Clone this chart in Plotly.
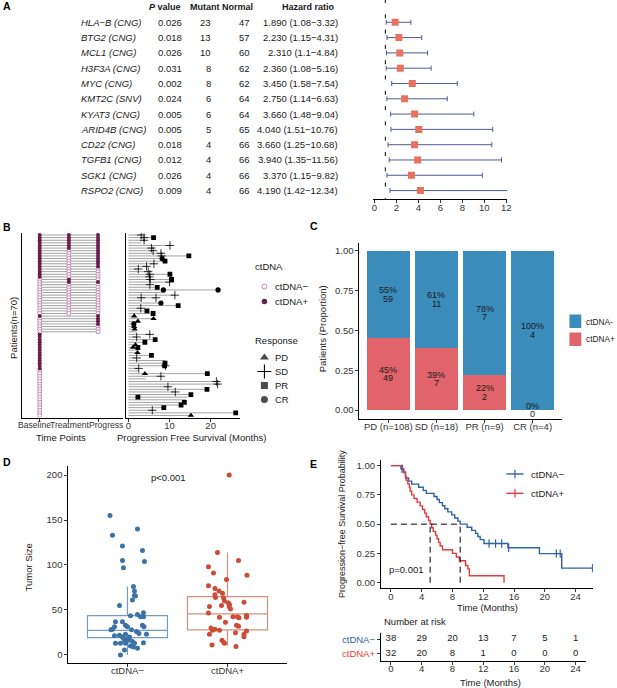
import plotly.graph_objects as go

W, H = 617, 688
def X(px): return px / W
def Y(py): return 1 - py / H

FONT = "Liberation Sans, Arial, Helvetica, sans-serif"
TXT = "#1a1a1a"
TICK = "#333333"

# ---------------- Panel A data ----------------
genes = ["HLA−B (CNG)", "BTG2 (CNG)", "MCL1 (CNG)", "H3F3A (CNG)", "MYC (CNG)", "KMT2C (SNV)",
         "KYAT3 (CNG)", "ARID4B (CNG)", "CD22 (CNG)", "TGFB1 (CNG)", "SGK1 (CNG)", "RSPO2 (CNG)"]
pvals = ["0.026", "0.018", "0.026", "0.031", "0.002", "0.024", "0.005", "0.005", "0.018", "0.012", "0.026", "0.009"]
mutant = [23, 13, 10, 8, 8, 6, 6, 5, 4, 4, 4, 4]
normal = [47, 57, 60, 62, 62, 64, 64, 65, 66, 66, 66, 66]
hr = [1.89, 2.23, 2.31, 2.36, 3.45, 2.75, 3.66, 4.04, 3.66, 3.94, 3.37, 4.19]
hr_lo = [1.08, 1.15, 1.1, 1.08, 1.58, 1.14, 1.48, 1.51, 1.25, 1.35, 1.15, 1.42]
hr_hi = [3.32, 4.31, 4.84, 5.16, 7.54, 6.63, 9.04, 10.76, 10.68, 11.56, 9.82, 12.34]
forest_ticks = [0, 2, 4, 6, 8, 10, 12]

# ---------------- Panel B data ----------------
time_points = ["Baseline", "Treatment", "Progress"]
base_status = [1,1,1,1,1,1,1,1,1,1, 1,1,1,1,1,1,1,0,0,0, 0,0,0,0,0,0,0,0,0,0,
               0,1,0,0,0,0,0,0,1,1, 1,1,1,1,1,1,1,1,1,1, 1,1,0,0,0,0,0,0,0,0,
               0,0,0,0,0,0,0,0,0,0]
treat_status = [1,1,1,1,1,1,0,0,0,0, 0,0,0,0,0,0,0,1,1,0, 0,0,0,0,0,0,0,0,0,0, 0]
prog_status = [1,1,1,1,1,1,1,1,1,1, 1,1,1,0,0,0,0,0,1,0, 0,0,0,0,0,0,0,0,0,0, 0,1,1,1,1,0,0,0]
pfs = [3.5, 6.2, 4.0, 3.2, 10.5, 6.0, 6.3, 8.3, 14.8, 8.4,
       9.0, 6.3, 4.8, 2.6, 5.0, 10.3, 5.3, 10.7, 10.2, 5.3,
       7.1, 22.0, 8.8, 11.5, 6.9, 3.2, 8.0, 12.3, 3.3, 4.7,
       6.1, 1.6, 6.3, 2.4, 1.5, 1.6, 1.7, 2.0, 5.4, 2.1,
       6.6, 4.1, 1.8, 2.4, 2.3, 2.3, 5.7, 2.2, 9.0, 9.1,
       9.2, 2.6, 2.6, 19.4, 8.2, 4.2, 21.8, 22.2, 10.0, 19.3,
       11.6, 15.3, 14.4, 14.0, 13.7, 12.9, 8.7, 6.4, 26.2, 15.3]
sd_row = [1, 2, 3, 5, 6, 7, 8, 9, 12, 13, 14, 15, 16, 17, 18, 19, 20, 24, 25, 25, 29, 39, 40, 48, 51, 52, 55, 57, 58, 59, 61, 68]
sd_t = [3.1, 3.8, 3.8, 10.1, 5.6, 6.0, 7.9, 8.1, 6.2, 4.4, 2.4, 4.8, 5.2, 5.1, 5.3, 10.0, 5.2, 11.3, 3.1, 6.7, 3.0, 5.2, 2.0, 2.0, 9.0, 2.5, 7.9, 21.4, 21.7, 9.6, 11.4, 5.8]
pr_row = [2, 9, 11, 16, 18, 21, 28, 30, 31, 41, 42, 44, 47, 50, 51, 54, 60, 62, 63, 65, 66, 67, 69]
pr_t = [6.1, 14.7, 8.9, 10.1, 10.5, 7.0, 12.1, 4.5, 6.0, 6.5, 4.0, 2.3, 5.6, 8.9, 8.8, 19.2, 19.1, 15.2, 2.3, 13.6, 12.8, 8.6, 26.1]
pd_row = [32, 33, 34, 36, 37, 43, 44, 46, 54, 70]
pd_t = [1.4, 6.1, 2.3, 1.4, 1.5, 1.7, 1.1, 2.2, 4.0, 15.2]
cr_row = [10, 22, 22, 27, 35]
cr_t = [8.2, 8.5, 21.8, 7.9, 1.3]

# ---------------- Panel C data ----------------
resp_labels = ["PD (n=108)", "SD (n=18)", "PR (n=9)", "CR (n=4)"]
neg_counts = [59, 11, 7, 4]
pos_counts = [49, 7, 2, 0]
neg_pct = ["55%", "61%", "78%", "100%"]
pos_pct = ["45%", "39%", "22%", "0%"]

# ---------------- Panel D data ----------------
d_neg_off = [-0.175, -0.15, 0.1, -0.05, 0.15, -0.05, 0.17, -0.04, -0.08, 0.06, 0.07, 0.07, 0.05, 0.08,
             0.16, 0.13, 0.16, 0.1, 0.03, -0.05, -0.12, -0.13, -0.15, -0.165, -0.02, 0.0, 0.15, 0.165,
             0.09, 0.115, 0.19, -0.13, -0.08, -0.05, -0.02, 0.02, -0.03, -0.01, 0.01, -0.02, -0.07, 0.05,
             0.07, 0.03, 0.06, 0.1, 0.16, -0.03, -0.07, -0.04, 0.02, -0.12, 0.04]
d_neg_val = [155, 133, 140, 121, 116, 105, 104, 97, 55, 76, 71, 66, 61, 65.5,
             47, 42.6, 42.6, 45, 43.7, 37, 37, 31.5, 28.5, 28, 33, 31.5, 33, 31.5,
             26, 24, 23, 21.5, 22, 20, 23, 20, 16.7, 15, 18.5, 13, 13, 15,
             13, 10, 9, 7.4, 13.7, 5.6, 0, 18.5, 16.7, 13, 28]
d_pos_off = [0.017, -0.1, 0.11, -0.19, -0.14, -0.01, 0.195, -0.19, -0.125, -0.085, -0.125, -0.05, -0.12,
             -0.04, -0.03, 0.007, 0.165, 0.02, -0.06, -0.18, 0.017, 0.03, -0.19, -0.08, 0.055, 0.1, 0.19,
             0.19, 0.115, -0.02, 0.09, 0.11, -0.165, -0.125, -0.15, -0.08, 0.19, 0.08, -0.18, 0.165, 0.165,
             -0.055, -0.036, -0.03, -0.155, 0.085]
d_pos_val = [200, 114, 105, 98, 91, 84, 88.5, 77, 74, 71, 67, 68.5, 64,
             63.7, 60, 58, 58.5, 56, 55, 54, 54, 51, 46.7, 42, 42.6, 42.6, 44,
             42, 41.5, 36.3, 33, 32, 30, 28.5, 27.4, 27.4, 26.7, 24.8, 23, 23, 20.4,
             16.3, 14, 13, 11, 9.3]
box_q1 = [19.3, 27.8]
box_med = [27.4, 45.6]
box_q3 = [43.7, 64.8]
box_lo = [0, 10.4]
box_hi = [76, 114]

# ---------------- Panel E data ----------------
km_neg_t = [0, 1.3, 1.6, 1.9, 2.3, 2.7, 3.6, 4.2, 4.6, 5.6, 6.0, 6.3, 6.7, 7.0, 7.4, 7.9, 8.3, 8.7, 9.0,
            9.9, 10.5, 11.0, 11.3, 11.6, 12.1, 15.2, 19.3, 22.2, 26.2]
km_neg_s = [1.0, 0.974, 0.947, 0.895, 0.868, 0.842, 0.816, 0.789, 0.763, 0.737, 0.711, 0.684, 0.658, 0.632,
            0.605, 0.579, 0.553, 0.526, 0.5, 0.474, 0.447, 0.421, 0.395, 0.368, 0.335, 0.298, 0.248, 0.124, 0.124]
km_pos_t = [0, 1.5, 1.7, 1.9, 2.0, 2.2, 2.4, 2.5, 2.7, 3.0, 3.4, 3.8, 4.1, 4.4, 4.6, 4.9, 5.1, 5.3, 5.5,
            5.8, 6.0, 6.2, 6.4, 6.7, 8.0, 8.5, 8.9, 9.7, 10.0, 10.2, 14.7]
km_pos_s = [1.0, 0.969, 0.938, 0.906, 0.875, 0.844, 0.813, 0.781, 0.75, 0.719, 0.688, 0.656, 0.625, 0.594,
            0.563, 0.531, 0.5, 0.469, 0.438, 0.406, 0.375, 0.344, 0.313, 0.281, 0.25, 0.219, 0.188, 0.147,
            0.118, 0.059, 0.0]
cens_neg_t = [1.45, 12.75, 13.6, 14.4, 15.3, 21.5, 22.0, 26.2]
median_neg = 9.0
median_pos = 5.1
risk_times = [0, 4, 8, 12, 16, 20, 24]
risk_neg = [38, 29, 20, 13, 7, 5, 1]
risk_pos = [32, 20, 8, 1, 0, 0, 0]

# ---------------- colours ----------------
C_SQ = "#E8725E"
C_WHISK = "#4E5B8F"
C_FILL = "#6B1E4B"
C_EMPTY = "#C68AB2"
C_GREY = "#A3A3A3"
C_BLUE = "#3A8DBA"
C_RED = "#E0646A"
D_BLUE = "#3D72A6"
D_BLUE_BOX = "#709CC7"
D_RED = "#CB4D37"
D_RED_BOX = "#DB8E80"
KM_BLUE = "#2F62AD"
KM_RED = "#E23B3B"

fig = go.Figure()
ann = []
shapes = []

def T(x, y, text, size=9.5, xa="center", ya="middle", color=TXT, angle=0, xref="paper", yref="paper", yshift=0):
    ann.append(dict(x=x, y=y, text=text, xref=xref, yref=yref, xanchor=xa, yanchor=ya, showarrow=False,
                    textangle=angle, yshift=yshift, font=dict(size=size, color=color, family=FONT)))

# ---------------- Panel A ----------------
rows_a = list(range(len(genes)))
fig.add_trace(go.Scatter(
    x=hr, y=rows_a, mode="markers", xaxis="x", yaxis="y",
    marker=dict(symbol="square", size=7, color=C_SQ),
    error_x=dict(type="data", symmetric=False,
                 array=[h - m for m, h in zip(hr, hr_hi)],
                 arrayminus=[m - l for m, l in zip(hr, hr_lo)],
                 color=C_WHISK, thickness=1, width=2.5),
    showlegend=False, hoverinfo="skip"))
shapes.append(dict(type="line", xref="x", yref="paper", x0=1, x1=1, y0=Y(-1), y1=Y(199.3),
                   line=dict(color="black", width=1, dash="4px,11.3px")))
T(X(183), -1, "<b><i>P</i> value</b>", size=9, xa="right", yref="y")
T(X(204.5), -1, "<b>Mutant</b>", size=9, yref="y")
T(X(238), -1, "<b>Normal</b>", size=9, yref="y")
T(X(338), -1, "<b>Hazard ratio</b>", size=9, xa="right", yref="y")
for i, g in enumerate(genes):
    T(X(78), i, "<i>%s</i>" % g, xa="left", yref="y")
    T(X(183.3), i, pvals[i], xa="right", yref="y")
    T(X(213.3), i, str(mutant[i]), xa="right", yref="y")
    T(X(252.3), i, str(normal[i]), xa="right", yref="y")
    T(X(341.5), i, "%.3f (%s−%s)" % (hr[i], repr(hr_lo[i]), repr(hr_hi[i])), xa="right", yref="y")

# ---------------- Panel B ----------------
lx, ly = [], []
for i, p in enumerate(prog_status):
    lx += [1, 3, None]
    ly += [i + 1, i + 1, None]
fig.add_trace(go.Scatter(x=lx, y=ly, mode="lines", xaxis="x2", yaxis="y2",
                         line=dict(color=C_GREY, width=1), showlegend=False, hoverinfo="skip"))
pts = []
for i, s in enumerate(base_status):
    pts.append((1, i + 1, s))
for i, s in enumerate(treat_status):
    pts.append((2, i + 1, s))
for i, s in enumerate(prog_status):
    pts.append((3, i + 1, s))
for flag in (0, 1):
    px_ = [p[0] for p in pts if p[2] == flag]
    py_ = [p[1] for p in pts if p[2] == flag]
    if flag == 1:
        mk = dict(symbol="circle", size=4, color=C_FILL, line=dict(width=0))
    else:
        mk = dict(symbol="circle", size=4, color="white", line=dict(width=1, color=C_EMPTY))
    fig.add_trace(go.Scatter(x=px_, y=py_, mode="markers", xaxis="x2", yaxis="y2", marker=mk,
                             showlegend=False, hoverinfo="skip"))
sx, sy = [], []
for i, v in enumerate(pfs):
    sx += [0, v, None]
    sy += [i + 1, i + 1, None]
fig.add_trace(go.Scatter(x=sx, y=sy, mode="lines", xaxis="x3", yaxis="y3",
                         line=dict(color=C_GREY, width=1), showlegend=False, hoverinfo="skip"))
for rr, tt, sym, sz in [(pd_row, pd_t, "triangle-up", 5.5), (pr_row, pr_t, "square", 4.8),
                        (cr_row, cr_t, "circle", 5.2)]:
    fig.add_trace(go.Scatter(x=tt, y=rr, mode="markers", xaxis="x3", yaxis="y3",
                             marker=dict(symbol=sym, size=sz, color="black", line=dict(width=0)),
                             showlegend=False, hoverinfo="skip"))
fig.add_trace(go.Scatter(x=sd_t, y=sd_row, mode="markers", xaxis="x3", yaxis="y3",
                         marker=dict(symbol="cross-thin", size=6, color="black", line=dict(width=0.8, color="black")),
                         showlegend=False, hoverinfo="skip"))

# legends for B (overlay pixel axis)
fig.add_trace(go.Scatter(x=[265], y=[286.5], mode="markers", xaxis="x8", yaxis="y8",
                         marker=dict(symbol="circle", size=5, color="white", line=dict(width=1, color=C_EMPTY)),
                         showlegend=False, hoverinfo="skip"))
fig.add_trace(go.Scatter(x=[265], y=[301.5], mode="markers", xaxis="x8", yaxis="y8",
                         marker=dict(symbol="circle", size=5.5, color=C_FILL, line=dict(width=0)),
                         showlegend=False, hoverinfo="skip"))
fig.add_trace(go.Scatter(x=[265, 265, 265], y=[357.5, 385.5, 399.5], mode="markers", xaxis="x8", yaxis="y8",
                         marker=dict(symbol=["triangle-up", "square", "circle"], size=[8, 7, 7], color="black",
                                     line=dict(width=0)),
                         showlegend=False, hoverinfo="skip"))
fig.add_trace(go.Scatter(x=[265], y=[371.5], mode="markers", xaxis="x8", yaxis="y8",
                         marker=dict(symbol="cross-thin", size=10, color="black", line=dict(width=1.1, color="black")),
                         showlegend=False, hoverinfo="skip"))
T(X(253.5), Y(266), "ctDNA", xa="left")
T(X(274), Y(286.5), "ctDNA−", xa="left")
T(X(274), Y(301.5), "ctDNA+", xa="left")
T(X(253.5), Y(340), "Response", xa="left")
for lab, yy in [("PD", 357.5), ("SD", 371.5), ("PR", 385.5), ("CR", 399.5)]:
    T(X(273.5), Y(yy), lab, xa="left")
T(X(11), Y(328), "Patients(n=70)", angle=-90)
# time-point labels sit edge to edge under the left panel, as in the reference
for lab, xx in zip(time_points, [32.5, 68.5, 105.5]):
    T(X(xx), Y(425), lab, size=8.6, color=TICK)
T(X(60), Y(437.5), "Time Points")
T(X(191.5), Y(437.5), "Progression Free Survival (Months)")

# ---------------- Panel C ----------------
tot = [a + b for a, b in zip(neg_counts, pos_counts)]
pos_prop = [b / t for b, t in zip(pos_counts, tot)]
neg_prop = [a / t for a, t in zip(neg_counts, tot)]
cx = list(range(len(resp_labels)))
fig.add_trace(go.Bar(x=cx, y=pos_prop, width=0.9, marker=dict(color=C_RED, line=dict(width=0)),
                     xaxis="x4", yaxis="y4", showlegend=False, hoverinfo="skip"))
fig.add_trace(go.Bar(x=cx, y=neg_prop, width=0.9, marker=dict(color=C_BLUE, line=dict(width=0)),
                     xaxis="x4", yaxis="y4", showlegend=False, hoverinfo="skip"))
for i in cx:
    yneg = pos_prop[i] + neg_prop[i] / 2
    ypos = pos_prop[i] / 2
    T(i, yneg, neg_pct[i], size=9, xref="x4", yref="y4", yshift=4.2)
    T(i, yneg, str(neg_counts[i]), size=9, xref="x4", yref="y4", yshift=-4.2)
    T(i, ypos, pos_pct[i], size=9, xref="x4", yref="y4", yshift=4.2)
    T(i, ypos, str(pos_counts[i]), size=9, xref="x4", yref="y4", yshift=-4.2)
T(X(323.5), Y(329), "Patients (Proportion)", angle=-90)
shapes.append(dict(type="rect", xref="paper", yref="paper", x0=X(573), x1=X(585), y0=Y(314.5), y1=Y(328),
                   fillcolor=C_BLUE, line=dict(width=0)))
shapes.append(dict(type="rect", xref="paper", yref="paper", x0=X(573), x1=X(585), y0=Y(332.5), y1=Y(346),
                   fillcolor=C_RED, line=dict(width=0)))
T(X(587.5), Y(321.5), "ctDNA-", size=8.3, xa="left")
T(X(587.5), Y(339.5), "ctDNA+", size=8.3, xa="left")

# ---------------- Panel D ----------------
for k, lc in enumerate([D_BLUE_BOX, D_RED_BOX]):
    fig.add_trace(go.Box(x=[k], q1=[box_q1[k]], median=[box_med[k]], q3=[box_q3[k]],
                         lowerfence=[box_lo[k]], upperfence=[box_hi[k]], width=0.8, whiskerwidth=0,
                         fillcolor="rgba(0,0,0,0)", line=dict(color=lc, width=1.2), boxpoints=False,
                         xaxis="x5", yaxis="y5", showlegend=False, hoverinfo="skip"))
fig.add_trace(go.Scatter(x=[0 + o for o in d_neg_off], y=d_neg_val, mode="markers", xaxis="x5", yaxis="y5",
                         marker=dict(size=5, color=D_BLUE), showlegend=False, hoverinfo="skip"))
fig.add_trace(go.Scatter(x=[1 + o for o in d_pos_off], y=d_pos_val, mode="markers", xaxis="x5", yaxis="y5",
                         marker=dict(size=5, color=D_RED), showlegend=False, hoverinfo="skip"))
T(X(168.3), Y(477.5), "p<0.001")
T(X(26.7), Y(567), "Tumor Size", angle=-90)

# ---------------- Panel E ----------------
fig.add_trace(go.Scatter(x=km_neg_t, y=km_neg_s, mode="lines", line=dict(color=KM_BLUE, width=1.4, shape="hv"),
                         xaxis="x6", yaxis="y6", showlegend=False, hoverinfo="skip"))
fig.add_trace(go.Scatter(x=km_pos_t, y=km_pos_s, mode="lines", line=dict(color=KM_RED, width=1.4, shape="hv"),
                         xaxis="x6", yaxis="y6", showlegend=False, hoverinfo="skip"))
def step_val(ts, ss, t):
    v = ss[0]
    for a, b in zip(ts, ss):
        if a <= t:
            v = b
    return v
fig.add_trace(go.Scatter(x=cens_neg_t, y=[step_val(km_neg_t, km_neg_s, t) for t in cens_neg_t], mode="markers",
                         marker=dict(symbol="line-ns", size=6, color=KM_BLUE, line=dict(width=1.2, color=KM_BLUE)),
                         xaxis="x6", yaxis="y6", showlegend=False, hoverinfo="skip"))
for x0, x1, y0, y1 in [(0, median_neg, 0.5, 0.5), (median_pos, median_pos, 0, 0.5), (median_neg, median_neg, 0, 0.5)]:
    shapes.append(dict(type="line", xref="x6", yref="y6", x0=x0, x1=x1, y0=y0, y1=y1,
                       line=dict(color="black", width=1, dash="6px,4px")))
T(X(408), Y(569), "p=0.001")
T(X(343.3), Y(524), "Progression−free Survival Probability", size=9, angle=-90)
T(X(490), Y(607), "Time (Months)")
shapes.append(dict(type="line", xref="paper", yref="paper", x0=X(509.3), x1=X(526.7), y0=Y(474), y1=Y(474),
                   line=dict(color=KM_BLUE, width=1.4)))
shapes.append(dict(type="line", xref="paper", yref="paper", x0=X(509.3), x1=X(526.7), y0=Y(493.3), y1=Y(493.3),
                   line=dict(color=KM_RED, width=1.4)))
fig.add_trace(go.Scatter(x=[518, 518], y=[474, 493.3], mode="markers", xaxis="x8", yaxis="y8",
                         marker=dict(symbol="line-ns", size=6, color=[KM_BLUE, KM_RED],
                                     line=dict(width=1.2, color=[KM_BLUE, KM_RED])),
                         showlegend=False, hoverinfo="skip"))
T(X(531.7), Y(474), "ctDNA−", xa="left")
T(X(531.7), Y(493.3), "ctDNA+", xa="left")

fig.add_trace(go.Scatter(x=risk_times + risk_times, y=[1] * len(risk_times) + [0] * len(risk_times),
                         mode="text", text=[str(v) for v in risk_neg + risk_pos],
                         textfont=dict(size=9.5, color=TXT, family=FONT),
                         xaxis="x7", yaxis="y7", showlegend=False, hoverinfo="skip"))
T(X(383.3), Y(621.7), "Number at risk", xa="left")
T(X(379), Y(639), "ctDNA−", xa="right", color=KM_BLUE)
T(X(379), Y(653.3), "ctDNA+", xa="right", color=KM_RED)
T(X(493.3), Y(682), "Time (Months)")

for lab, xx, yy in [("A", 5, 6), ("B", 5, 227.5), ("C", 315.5, 226), ("D", 5, 462), ("E", 315, 463.5)]:
    T(X(xx), Y(yy), "<b>%s</b>" % lab, size=10.5, color="black")

# ---------------- axes ----------------
tf = dict(size=9.5, color=TICK, family=FONT)
def xax(domain, rng, anchor, **kw):
    d = dict(domain=domain, range=rng, anchor=anchor, showgrid=False, zeroline=False, showline=True,
             linecolor="black", linewidth=1, ticks="outside", ticklen=3, tickwidth=1, tickcolor="#333",
             tickfont=tf, fixedrange=True, tickangle=0, ticklabelstandoff=-4)
    d.update(kw)
    return d
def yax(domain, rng, anchor, **kw):
    d = dict(domain=domain, range=rng, anchor=anchor, showgrid=False, zeroline=False, showline=True,
             linecolor="black", linewidth=1, ticks="outside", ticklen=3, tickwidth=1, tickcolor="#333",
             tickfont=tf, fixedrange=True, tickangle=0)
    d.update(kw)
    return d

layout_axes = dict(
    xaxis=xax([X(375), X(510.3)], [-0.09, 12.09], "y", tickvals=forest_ticks),
    yaxis=dict(domain=[Y(199.3), 1], range=[11.57, -1.458], visible=False, anchor="x", fixedrange=True),
    xaxis2=xax([X(20.7), X(122)], [0.41, 3.85], "y2", tickvals=[1, 2, 3], showticklabels=False),
    yaxis2=yax([Y(417.5), Y(233)], [70.77, 0.23], "x2", ticks="", showticklabels=False),
    xaxis3=xax([X(125), X(240)], [-0.65, 27.06], "y3", tickvals=[0, 10, 20]),
    yaxis3=yax([Y(417.5), Y(233)], [70.77, 0.23], "x3", ticks="", showticklabels=False),
    xaxis4=xax([X(361), X(565)], [-0.6, 3.6], "y4", tickvals=cx, ticktext=resp_labels),
    yaxis4=yax([Y(419), Y(243)], [-0.0566, 1.05], "x4", tickvals=[0, 0.25, 0.5, 0.75, 1],
               ticktext=["0.00", "0.25", "0.50", "0.75", "1.00"]),
    xaxis5=xax([X(67), X(288)], [-0.591, 1.597], "y5", tickvals=[0, 1], ticktext=["ctDNA−", "ctDNA+"]),
    yaxis5=yax([Y(663), Y(466)], [-8.9, 210], "x5", tickvals=[0, 50, 100, 150, 200]),
    xaxis6=xax([X(382.7), X(596.7)], [-1.29, 26.25], "y6", tickvals=risk_times),
    yaxis6=yax([Y(588.3), Y(459.8)], [-0.048, 1.05], "x6", tickvals=[0, 0.25, 0.5, 0.75, 1],
               ticktext=["0.00", "0.25", "0.50", "0.75", "1.00"]),
    xaxis7=xax([X(382.7), X(589.3)], [-1.29, 25.3], "y7", tickvals=risk_times),
    yaxis7=yax([Y(661), Y(633)], [-0.54, 1.42], "x7", tickvals=[0, 1], showticklabels=False),
    xaxis8=dict(domain=[0, 1], range=[0, W], visible=False, anchor="y8", fixedrange=True),
    yaxis8=dict(domain=[0, 1], range=[H, 0], visible=False, anchor="x8", fixedrange=True),
)

fig.update_layout(
    width=W, height=H, margin=dict(l=0, r=0, t=0, b=0, pad=0),
    paper_bgcolor="white", plot_bgcolor="rgba(0,0,0,0)",
    font=dict(family=FONT, size=9.5, color=TXT),
    barmode="stack", showlegend=False,
    annotations=ann, shapes=shapes, **layout_axes)

fig.write_html("out.html", config={"displayModeBar": False},
               post_script="document.body.style.margin='0';document.body.style.overflow='hidden';")
